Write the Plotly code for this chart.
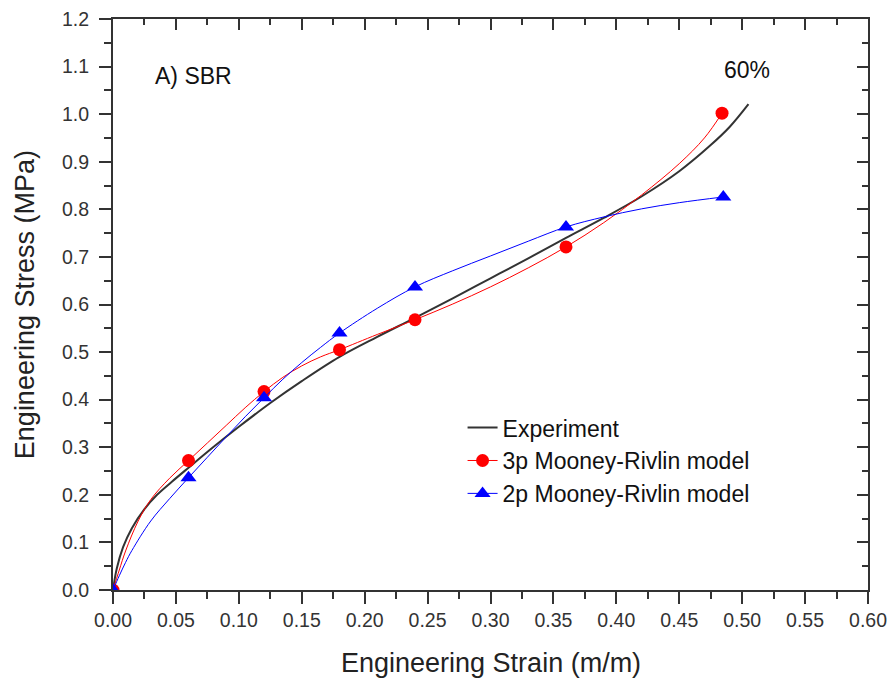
import plotly.graph_objects as go

# Experiment curve
exp_x = [0, 0.003, 0.008, 0.015, 0.025, 0.035, 0.047, 0.06, 0.08, 0.10, 0.125, 0.15, 0.18, 0.21, 0.24,
         0.27, 0.30, 0.33, 0.36, 0.39, 0.42, 0.45, 0.475, 0.49, 0.505]
exp_y = [0, 0.045, 0.09, 0.13, 0.17, 0.20, 0.228, 0.257, 0.301, 0.343, 0.393, 0.439, 0.49, 0.532, 0.572,
         0.613, 0.655, 0.697, 0.74, 0.782, 0.827, 0.88, 0.935, 0.973, 1.021]

# 3p Mooney-Rivlin model: data points and fitted curve
mr3_px = [0, 0.06, 0.12, 0.18, 0.24, 0.36, 0.484]
mr3_py = [0, 0.272, 0.417, 0.505, 0.568, 0.721, 1.002]
mr3_cx = [0, 0.005, 0.01, 0.02, 0.03, 0.045, 0.06, 0.075, 0.09, 0.105, 0.12, 0.135, 0.15, 0.165, 0.18,
          0.21, 0.24, 0.27, 0.30, 0.33, 0.36, 0.39, 0.42, 0.45, 0.47, 0.484]
mr3_cy = [0, 0.042, 0.082, 0.145, 0.19, 0.235, 0.272, 0.309, 0.346, 0.383, 0.417, 0.447, 0.471, 0.49, 0.505,
          0.537, 0.568, 0.601, 0.637, 0.677, 0.721, 0.772, 0.83, 0.896, 0.95, 1.002]

# 2p Mooney-Rivlin model: data points and fitted curve
mr2_px = [0, 0.06, 0.12, 0.18, 0.24, 0.36, 0.485]
mr2_py = [0, 0.236, 0.404, 0.540, 0.637, 0.763, 0.826]
mr2_cx = [0, 0.005, 0.01, 0.015, 0.03, 0.045, 0.06, 0.075, 0.09, 0.105, 0.12, 0.135, 0.15, 0.165, 0.18,
          0.21, 0.24, 0.27, 0.30, 0.33, 0.36, 0.39, 0.42, 0.45, 0.485]
mr2_cy = [0, 0.03, 0.058, 0.083, 0.145, 0.192, 0.236, 0.279, 0.322, 0.364, 0.404, 0.443, 0.478, 0.51, 0.54,
          0.592, 0.637, 0.671, 0.702, 0.733, 0.763, 0.784, 0.801, 0.814, 0.826]

x_ticks = [round(i * 0.05, 2) for i in range(13)]
y_ticks = [round(i * 0.1, 1) for i in range(13)]

RED = "#ff0000"
BLUE = "#0000ff"
BLACK = "#333333"
FONT = "Liberation Sans, Arial, sans-serif"

fig = go.Figure()

fig.add_trace(go.Scatter(x=exp_x, y=exp_y, mode="lines", name="Experiment",
                         line=dict(color=BLACK, width=2, shape="spline", smoothing=1)))
# red
fig.add_trace(go.Scatter(x=mr3_cx, y=mr3_cy, mode="lines", showlegend=False,
                         line=dict(color=RED, width=1, shape="spline", smoothing=1)))
fig.add_trace(go.Scatter(x=mr3_px, y=mr3_py, mode="markers", showlegend=False,
                         marker=dict(color=RED, size=13, symbol="circle")))
fig.add_trace(go.Scatter(x=[None], y=[None], mode="lines+markers", name="3p Mooney-Rivlin model",
                         line=dict(color=RED, width=1), marker=dict(color=RED, size=13, symbol="circle")))
# blue
fig.add_trace(go.Scatter(x=mr2_cx, y=mr2_cy, mode="lines", showlegend=False,
                         line=dict(color=BLUE, width=1, shape="spline", smoothing=1)))
fig.add_trace(go.Scatter(x=mr2_px, y=mr2_py, mode="markers", showlegend=False,
                         marker=dict(color=BLUE, size=14, symbol="triangle-up")))
fig.add_trace(go.Scatter(x=[None], y=[None], mode="lines+markers", name="2p Mooney-Rivlin model",
                         line=dict(color=BLUE, width=1), marker=dict(color=BLUE, size=14, symbol="triangle-up")))
# dummy for mirror axes
fig.add_trace(go.Scatter(x=[None], y=[None], xaxis="x2", yaxis="y2", showlegend=False, hoverinfo="skip"))

axcol = "#333333"
fig.update_layout(
    width=893, height=681,
    margin=dict(l=113, r=25, t=19, b=91),
    paper_bgcolor="white", plot_bgcolor="white",
    font=dict(family=FONT, size=19, color="#333333"),
    xaxis=dict(range=[0, 0.6], tickvals=x_ticks, ticktext=[f"{v:.2f}" for v in x_ticks],
               showgrid=False, zeroline=False, showline=True, linecolor=axcol, linewidth=2,
               ticks="outside", ticklen=12, tickwidth=2, tickcolor=axcol, automargin=False,
               minor=dict(ticks="outside", dtick=0.025, tick0=0, ticklen=7, tickwidth=2, tickcolor=axcol),
               tickfont=dict(size=19.5)),
    yaxis=dict(range=[0, 1.2], tickvals=y_ticks, ticktext=[f"{v:.1f}" for v in y_ticks],
               showgrid=False, zeroline=False, showline=True, linecolor=axcol, linewidth=2,
               ticks="outside", ticklen=12, tickwidth=2, tickcolor=axcol, ticklabelstandoff=6,
               automargin=False,
               minor=dict(ticks="outside", dtick=0.05, tick0=0, ticklen=7, tickwidth=2, tickcolor=axcol),
               tickfont=dict(size=19.5)),
    xaxis2=dict(range=[0, 0.6], overlaying="x", side="top", anchor="y", showgrid=False, zeroline=False,
                showline=True, linecolor=axcol, linewidth=2, showticklabels=False, automargin=False,
                tickvals=x_ticks, ticks="inside", ticklen=11, tickwidth=2, tickcolor=axcol,
                minor=dict(ticks="inside", dtick=0.025, tick0=0, ticklen=6, tickwidth=2, tickcolor=axcol)),
    yaxis2=dict(range=[0, 1.2], overlaying="y", side="right", anchor="x", showgrid=False, zeroline=False,
                showline=True, linecolor=axcol, linewidth=2, showticklabels=False, automargin=False,
                tickvals=y_ticks, ticks="inside", ticklen=11, tickwidth=2, tickcolor=axcol,
                minor=dict(ticks="inside", dtick=0.05, tick0=0, ticklen=6, tickwidth=2, tickcolor=axcol)),
    legend=dict(x=0.463, y=0.322, xanchor="left", yanchor="top", bgcolor="rgba(0,0,0,0)",
                font=dict(size=23, color="#111111"), tracegroupgap=0),
    showlegend=True,
    annotations=[
        dict(text="Engineering Strain (m/m)", x=0.5, y=663, xref="paper", yref="paper",
             showarrow=False, xanchor="center", yanchor="middle",
             font=dict(size=27, color="#222222")),
        dict(text="Engineering Stress (MPa)", x=-0.117, y=0.5, xref="paper", yref="paper",
             showarrow=False, textangle=-90, xanchor="center", yanchor="middle",
             font=dict(size=27, color="#222222")),
        dict(text="A) SBR", x=0.032, y=1.08, xref="x", yref="y", showarrow=False,
             xanchor="left", yanchor="middle", font=dict(size=23, color="#111111")),
        dict(text="60%", x=0.484, y=1.092, xref="x", yref="y", showarrow=False,
             xanchor="left", yanchor="middle", font=dict(size=23, color="#111111")),
    ],
)
# place x title in paper coords: pixel 663 from top -> paper fraction
fig.layout.annotations[0].y = (590 - 663) / 571.0

fig.write_html("out.html")
